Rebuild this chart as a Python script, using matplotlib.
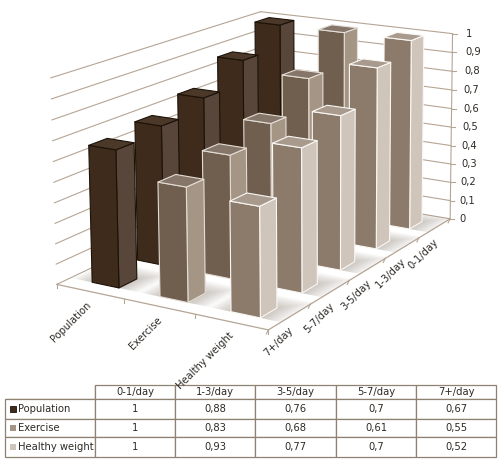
import numpy as np
import matplotlib
matplotlib.use('Agg')
import matplotlib.pyplot as plt
from matplotlib.patches import Polygon

# Datos
days = ['0-1/day', '1-3/day', '3-5/day', '5-7/day', '7+/day']
names = ['Population', 'Exercise', 'Healthy weight']
population = [1, 0.88, 0.76, 0.7, 0.67]
exercise = [1, 0.83, 0.68, 0.61, 0.55]
healthy = [1, 0.93, 0.77, 0.7, 0.52]
series = [population, exercise, healthy]
z_ticks = [0, 0.1, 0.2, 0.3, 0.4, 0.5, 0.6, 0.7, 0.8, 0.9, 1]

# colores: frente, lado, tapa, borde, leyenda
colors = [('#3f2b1c', '#58463a', '#4b3829', '#1c1208', '#3f2b1c'),
          ('#705e4e', '#a59585', '#86766a', '#e4ddd5', '#a59585'),
          ('#8c7b6a', '#cfc5bb', '#a89a8c', '#faf8f5', '#cfc5bb')]
line_color = '#b5a595'
text_color = '#2e2a26'
font = 'DejaVu Sans'
fsize = 7.2

# (u, v, z) -> pixel, perspective fitted on the corners of the plot box
box = [(0, 0, 0, 57, 287), (3, 0, 0, 268, 328), (3, 5, 0, 450, 221), (0, 5, 0, 262, 184),
       (0, 0, 1, 51, 77), (0, 5, 1, 260, 13), (3, 5, 1, 453, 33)]
A = []
b = []
for u, v, z, px, py in box:
    A.append([u, v, z, 1, 0, 0, 0, 0, -px * u, -px * v, -px * z])
    A.append([0, 0, 0, 0, u, v, z, 1, -py * u, -py * v, -py * z])
    b += [px, py]
H = np.linalg.lstsq(np.array(A, float), np.array(b, float), rcond=None)[0]

def project(u, v, z):
    w = H[8] * u + H[9] * v + H[10] * z + 1
    return ((H[0] * u + H[1] * v + H[2] * z + H[3]) / w,
            (H[4] * u + H[5] * v + H[6] * z + H[7]) / w)

def face(ax, pts, fc, ec, order):
    ax.add_patch(Polygon([project(*p) for p in pts], closed=True, facecolor=fc, edgecolor=ec,
                         linewidth=0.8, joinstyle='round', zorder=order))

fig = plt.figure(figsize=(5, 4.61), dpi=100)
ax = fig.add_axes([0, 0, 1, 1])
ax.set_xlim(0, 500)
ax.set_ylim(461, 0)
ax.axis('off')

# paredes
for t in z_ticks:
    ax.plot(*zip(project(0, 0, t), project(0, 5, t)), color=line_color, lw=0.8, zorder=1)
    ax.plot(*zip(project(0, 5, t), project(3, 5, t)), color=line_color, lw=0.8, zorder=1)
    x, y = project(3, 5, t)
    ax.plot([x, x + 4], [y, y], color=line_color, lw=0.8, zorder=1)
    ax.text(x + 9 + 4 * t, y, f'{t:g}'.replace('.', ','), ha='left', va='center', fontsize=fsize,
            family=font, color=text_color)
ax.plot(*zip(project(3, 5, 0), project(3, 5, 1)), color=line_color, lw=0.8, zorder=1)
ax.plot(*zip(project(0, 0, 0), project(3, 0, 0), project(3, 5, 0)), color=line_color, lw=0.9, zorder=1)
for i in range(4):
    x, y = project(i, 0, 0)
    ax.plot([x, x], [y, y + 4], color=line_color, lw=0.8, zorder=1)
for j in range(6):
    x, y = project(3, j, 0)
    ax.plot([x, x - 2], [y, y + 4], color=line_color, lw=0.8, zorder=1)

# etiquetas de los ejes
for i, name in enumerate(names):
    x, y = project(i + 0.5, 0, 0)
    ax.text(x - 1 + (2 if i else 0), y + 12, name, rotation=45, rotation_mode='anchor', ha='right',
            va='center', fontsize=fsize, family=font, color=text_color)
for k, day in enumerate(days):
    x, y = project(3, 4.5 - k, 0)
    ax.text(x + 2, y + 12, day, rotation=45, rotation_mode='anchor', ha='right', va='center',
            fontsize=fsize, family=font, color=text_color)

# barras, de atrás hacia adelante
u_start, u_end = 0.325, 0.725
v_start, v_end = 0.29, 0.68
floor = Polygon([project(0, 0, 0), project(3, 0, 0), project(3, 5, 0), project(0, 5, 0)],
                transform=ax.transData, facecolor='none', edgecolor='none')
ax.add_patch(floor)
for i in range(3):
    for k in range(5):
        j = 4 - k
        u0, u1 = i + u_start, i + u_end
        v0, v1 = j + v_start, j + v_end
        for s in np.arange(0.03, 0.3, 0.03):
            p = Polygon([project(u0 - s, v0, 0), project(u1 + s, v0, 0),
                         project(u1 + s, v1 + s * 1.3, 0), project(u0 - s, v1 + s * 1.3, 0)],
                        facecolor='#6b5a4a', edgecolor='none', alpha=0.035, zorder=2)
            ax.add_patch(p)
            p.set_clip_path(floor)

bars = sorted([(i, k) for i in range(3) for k in range(5)], key=lambda b: b[0] + b[1])
for n, (i, k) in enumerate(bars):
    j = 4 - k
    h = series[i][k]
    fc, sc, tc, ec, _ = colors[i]
    u0, u1 = i + u_start, i + u_end
    v0, v1 = j + v_start, j + v_end
    order = 3 + n * 0.01
    face(ax, [(u1, v0, 0), (u1, v1, 0), (u1, v1, h), (u1, v0, h)], sc, ec, order)
    face(ax, [(u0, v0, 0), (u1, v0, 0), (u1, v0, h), (u0, v0, h)], fc, ec, order)
    face(ax, [(u0, v0, h), (u1, v0, h), (u1, v1, h), (u0, v1, h)], tc, ec, order)

# tabla
col_edges = [5, 95, 175, 255, 336, 416, 496]
row_edges = [385, 399, 419, 437, 457]
cells = [[''] + days] + [[''] + [f'{x:g}'.replace('.', ',') for x in s] for s in series]
widths = np.diff(col_edges) / 491
tab = ax.table(cellText=cells, colWidths=list(widths), cellLoc='center',
               bbox=[5 / 500, 1 - 457 / 461, 491 / 500, 72 / 461])
tab.auto_set_font_size(False)
heights = np.diff(row_edges) / 72
for (r, c), cell in tab.get_celld().items():
    cell.set_height(heights[r])
    cell.set_edgecolor('#8f8170')
    cell.set_linewidth(0.9)
    cell.set_text_props(fontsize=fsize, family=font, color=text_color)
tab[0, 0].visible_edges = 'BR'
for r, name in enumerate(names):
    yc = (row_edges[r + 1] + row_edges[r + 2]) / 2
    ax.add_patch(Polygon([(10, yc - 3), (16, yc - 3), (16, yc + 3), (10, yc + 3)], closed=True,
                         facecolor=colors[r][4], edgecolor=colors[r][3] if r == 0 else 'none', lw=0.6))
    ax.text(18, yc - 0.5, name, ha='left', va='center', fontsize=fsize, family=font, color=text_color)

fig.savefig('out.png', dpi=100)
